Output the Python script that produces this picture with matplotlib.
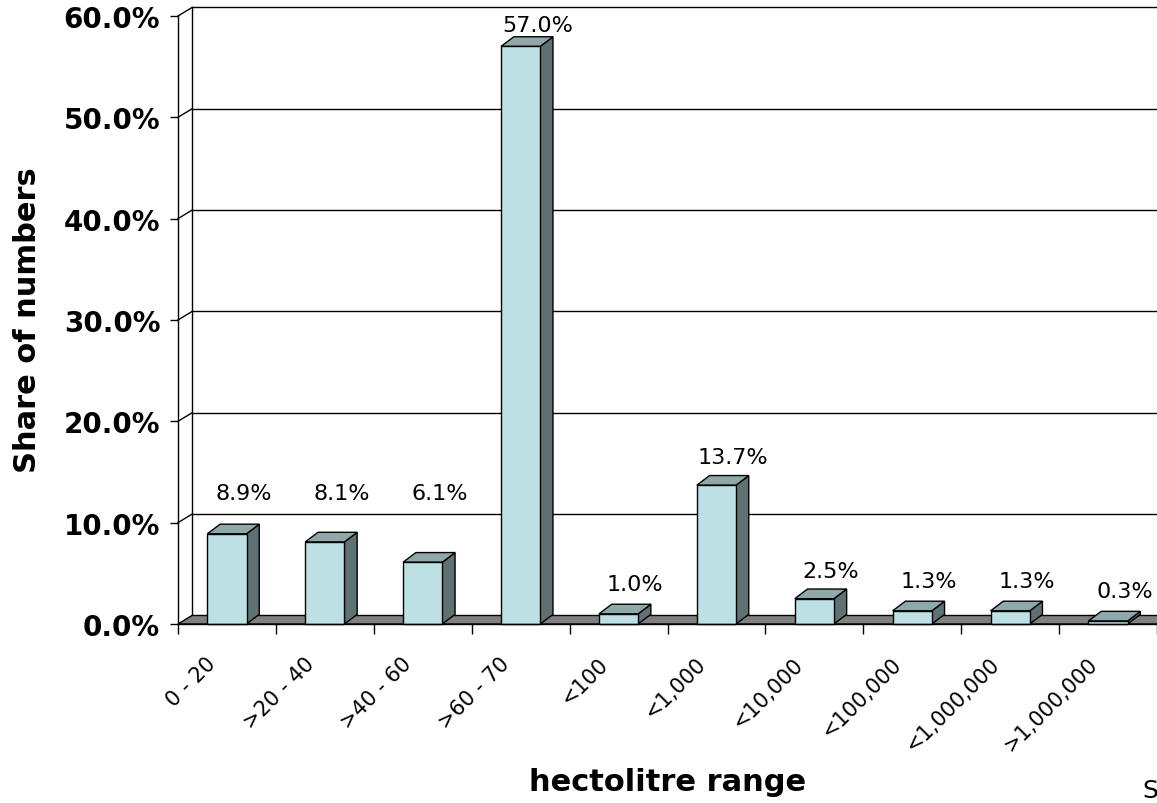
import matplotlib
matplotlib.use("Agg")
import matplotlib.pyplot as plt
from matplotlib.patches import Polygon
from matplotlib.transforms import ScaledTranslation

# ---- data ----
categories = ["0 - 20", ">20 - 40", ">40 - 60", ">60 - 70", "<100",
              "<1,000", "<10,000", "<100,000", "<1,000,000", ">1,000,000"]
shares = [8.9, 8.1, 6.1, 57.0, 1.0, 13.7, 2.5, 1.3, 1.3, 0.3]
y_ticks = [0, 10, 20, 30, 40, 50, 60]
y_tick_labels = ["0.0%", "10.0%", "20.0%", "30.0%", "40.0%", "50.0%", "60.0%"]

# ---- layout (value-label heights as placed in the original) ----
label_heights = [12.9, 12.9, 12.9, 59.1, 3.95, 16.5, 5.2, 4.2, 4.2, 3.3]

W, H = 1157, 804
fig = plt.figure(figsize=(W / 100, H / 100), dpi=100)
ax = fig.add_axes([178 / W, (H - 625) / H, 979 / W, 608 / H])
n = len(categories)
ax.set_xlim(-0.5, n - 0.5)
ax.set_ylim(0, 60)

wall_dx, wall_dy = 0.143, 0.84
bar_dx, bar_dy = 0.13, 0.95
bar_w = 0.40

front_col = "#BCE0E3"
side_col = "#5F7172"
top_col = "#8FA8AA"
floor_col = "#808080"

# back wall gridlines and side-wall diagonals
for v in y_ticks:
    if v > 0:
        ax.plot([-0.5 + wall_dx, n + 1], [v + wall_dy, v + wall_dy],
                color="black", lw=1.0, clip_on=False, zorder=1)
        ax.plot([-0.5, -0.5 + wall_dx], [v, v + wall_dy],
                color="black", lw=1.0, clip_on=False, zorder=1)
# back vertical edge of left wall
ax.plot([-0.5 + wall_dx, -0.5 + wall_dx], [wall_dy, 60 + wall_dy],
        color="black", lw=1.0, clip_on=False, zorder=1)

# floor
floor = Polygon([(-0.5, 0), (n + 1, 0), (n + 1 + wall_dx, wall_dy),
                 (-0.5 + wall_dx, wall_dy)], closed=True,
                facecolor=floor_col, edgecolor="black", lw=1.0,
                clip_on=False, zorder=2)
ax.add_patch(floor)

# bars
xs = list(range(n))
ax.bar(xs, shares, width=bar_w, color=front_col, edgecolor="black",
       lw=1.0, zorder=4, clip_on=False)
for i, v in zip(xs, shares):
    x0 = i - bar_w / 2
    x1 = i + bar_w / 2
    side = Polygon([(x1, 0), (x1 + bar_dx, bar_dy), (x1 + bar_dx, v + bar_dy), (x1, v)],
                   closed=True, facecolor=side_col, edgecolor="black", lw=1.0,
                   zorder=3, clip_on=False)
    top = Polygon([(x0, v), (x1, v), (x1 + bar_dx, v + bar_dy), (x0 + bar_dx, v + bar_dy)],
                  closed=True, facecolor=top_col, edgecolor="black", lw=1.0,
                  zorder=3, clip_on=False)
    ax.add_patch(side)
    ax.add_patch(top)
    ax.text(i + 0.17, label_heights[i], f"{v:.1f}%", ha="center", va="center",
            fontsize=16, color="black", zorder=6)

# axes styling
for s in ["top", "right"]:
    ax.spines[s].set_visible(False)
ax.spines["left"].set_linewidth(1.0)
ax.spines["bottom"].set_linewidth(1.0)
ax.spines["left"].set_zorder(5)
ax.spines["bottom"].set_zorder(5)

ax.set_yticks(y_ticks)
ax.set_yticklabels(y_tick_labels, fontsize=20, fontweight="bold")
ax.tick_params(axis="y", direction="out", length=5.8, width=1.0, pad=7)

ax.set_xticks([k - 0.5 for k in range(n + 1)])
ax.set_xticklabels([])
ax.tick_params(axis="x", direction="out", length=7.2, width=1.0)

# category labels (rotated)
for i, c in enumerate(categories):
    tr = ax.transData + ScaledTranslation(-0.14, -0.36, fig.dpi_scale_trans)
    ax.text(i, 0, c, transform=tr, rotation=45, rotation_mode="anchor",
            ha="right", va="center", fontsize=15, clip_on=False)

# axis titles
fig.text(28 / W, 1 - 320 / H, "Share of numbers", rotation=90, fontsize=22,
         fontweight="bold", ha="center", va="center")
fig.text(668 / W, 1 - 783 / H, "hectolitre range", fontsize=22,
         fontweight="bold", ha="center", va="center")
fig.text(1142 / W, 1 / H, "S", fontsize=18, ha="left", va="bottom")

fig.savefig("out.png", dpi=100)
